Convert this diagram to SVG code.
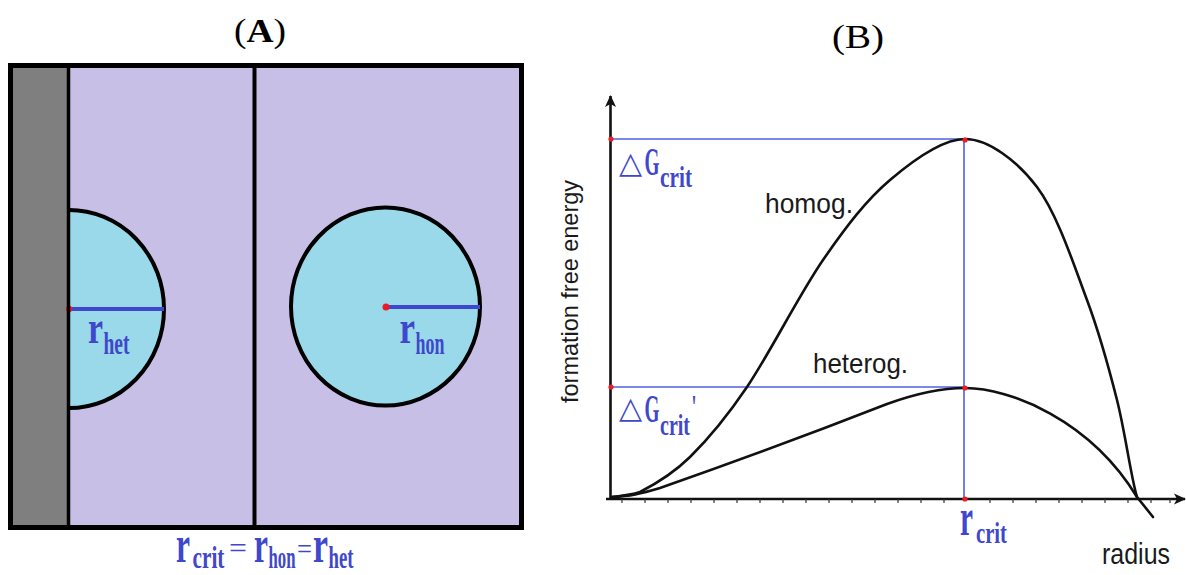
<svg xmlns="http://www.w3.org/2000/svg" width="1186" height="575" viewBox="0 0 1186 575">
<style>
.lab{fill:#3f48cc;font-family:"Liberation Serif",serif;font-weight:bold}
.eq{fill:#3f48cc;font-family:"Liberation Serif",serif}
.sym{fill:#3f48cc;font-family:"DejaVu Sans",sans-serif}
.ttl{fill:#000;font-family:"Liberation Serif",serif}
.cap{fill:#1a1a1a;font-family:"Liberation Sans",sans-serif}
.thin{stroke:#5060e0;stroke-width:1.6;fill:none}
.rad{stroke:#3f48cc;stroke-width:4;fill:none}
.curve{stroke:#111;stroke-width:2.6;fill:none;stroke-linecap:round;stroke-linejoin:round}
.axis{stroke:#111;stroke-width:2.6;fill:none}
.dot{fill:#ed1c24}
</style>
<defs>
<marker id="arr" viewBox="0 0 12 12" refX="11" refY="6" markerWidth="12" markerHeight="12" markerUnits="userSpaceOnUse" orient="auto">
<path d="M0,0.5 L12,6 L0,11.5 L3,6 Z" fill="#111"/>
</marker>
</defs>
<rect width="1186" height="575" fill="#fff"/>

<g id="panelA">
<text class="ttl" x="234" y="42" font-size="34" textLength="52" lengthAdjust="spacingAndGlyphs">(<tspan font-weight="bold">A</tspan>)</text>
<g id="medium">
<rect x="10.5" y="65.5" width="511" height="462" fill="#c8bfe6"/>
<rect x="13" y="68" width="55" height="457" fill="#7f7f7f"/>
</g>
<g id="het-nucleus">
<path d="M69,210 A95 99 0 0 1 69,408 Z" fill="#99d9ea"/>
<path d="M69,210 A95 99 0 0 1 69,408" fill="none" stroke="#000" stroke-width="4"/>
<line class="rad" x1="68" y1="309" x2="164" y2="309"/>
<circle class="dot" cx="69" cy="309" r="3.2"/>
<text class="lab" font-size="46" transform="translate(88,343) scale(0.735,1)">r</text>
<text class="lab" font-size="32" transform="translate(103.5,353.5) scale(0.61,1)">het</text>
</g>
<g id="hom-nucleus">
<ellipse cx="385.5" cy="306.5" rx="94.5" ry="99" fill="#99d9ea" stroke="#000" stroke-width="4"/>
<line class="rad" x1="386" y1="307" x2="480" y2="307"/>
<circle class="dot" cx="386" cy="307" r="3.5"/>
<text class="lab" font-size="46" transform="translate(399.5,343) scale(0.759,1)">r</text>
<text class="lab" font-size="32" transform="translate(415.5,353.5) scale(0.562,1)">hon</text>
</g>
<g id="frame">
<line x1="68.5" y1="68" x2="68.5" y2="525" stroke="#000" stroke-width="3.5"/>
<line x1="254.5" y1="68" x2="254.5" y2="525" stroke="#000" stroke-width="4"/>
<rect x="10.5" y="65.5" width="511" height="462" fill="none" stroke="#000" stroke-width="5"/>
</g>
<g id="eq-label">
<text class="lab" font-size="52" transform="translate(176,562) scale(0.606,1)">r</text>
<text class="lab" font-size="31" transform="translate(192.5,568) scale(0.688,1)">crit</text>
<text class="eq" font-size="30" transform="translate(229,557.5) scale(1.06,1)">=</text>
<text class="lab" font-size="52" transform="translate(254,562) scale(0.606,1)">r</text>
<text class="lab" font-size="31" transform="translate(268.5,568) scale(0.54,1)">hon</text>
<text class="eq" font-size="30" transform="translate(297,559) scale(0.887,1)">=</text>
<text class="lab" font-size="52" transform="translate(313,562) scale(0.65,1)">r</text>
<text class="lab" font-size="31" transform="translate(328.5,568) scale(0.605,1)">het</text>
</g>
</g>

<g id="panelB">
<text class="ttl" x="832" y="48" font-size="34" textLength="52" lengthAdjust="spacingAndGlyphs">(B)</text>
<g id="connectors">
<line class="thin" x1="611" y1="139" x2="965" y2="139"/>
<line class="thin" x1="611" y1="387" x2="965" y2="387"/>
<line class="thin" x1="964" y1="139" x2="964" y2="499"/>
</g>
<g id="axes">
<line class="axis" x1="610.5" y1="499" x2="610.5" y2="96" marker-end="url(#arr)"/>
<line class="axis" x1="606" y1="499" x2="1185" y2="499" marker-end="url(#arr)"/>
<path stroke="#333" stroke-width="1.2" d="M622,499v4 M645,499v4 M668,499v4 M691,499v4 M714,499v4 M737,499v4 M760,499v4 M783,499v4 M806,499v4 M829,499v4 M852,499v4 M875,499v4 M898,499v4 M921,499v4 M944,499v4 M990,499v4 M1013,499v4 M1036,499v4 M1059,499v4 M1082,499v4 M1105,499v4 M1128,499v4 M1151,499v4 M1170,499v4"/>
</g>
<g id="homog-curve">
<path class="curve" d="M612,497 C616.7,496.2 627,496 640,492 C653,485.3 672.2,474.5 690,457 C707.8,439.5 724.8,419.8 747,387 C769.2,354.2 799.2,294.5 823,260 C846.8,225.5 866.3,200.2 890,180 C913.7,159.8 942,139 965,139 C988,139 1016.7,160.2 1037,187 C1057.3,213.8 1073.7,264.5 1087,300 C1100.3,335.5 1108.7,367.2 1117,400 C1125.3,432.8 1131,477.5 1137,497 L1153,517"/>
<text class="cap" x="765" y="213" font-size="28" textLength="88" lengthAdjust="spacingAndGlyphs">homog.</text>
</g>
<g id="heterog-curve">
<path class="curve" d="M612,497 C630,496 640,494 660,488 C700,474 800,438 887,404 C920,392 945,388 965,388 C1010,388 1090,420 1137,497"/>
<text class="cap" x="813" y="373" font-size="28" textLength="95" lengthAdjust="spacingAndGlyphs">heterog.</text>
</g>
<g id="dots">
<circle class="dot" cx="611" cy="139" r="2.6"/>
<circle class="dot" cx="965" cy="140" r="2.6"/>
<circle class="dot" cx="611" cy="387" r="2.6"/>
<circle class="dot" cx="965" cy="388" r="2.6"/>
<circle class="dot" cx="965" cy="499" r="2.6"/>
</g>
<g id="dGcrit">
<text class="sym" font-size="30" x="619" y="173">△</text>
<text class="lab" font-size="41" transform="translate(644.5,175) scale(0.47,1)">G</text>
<text class="lab" font-size="30" transform="translate(660,187) scale(0.712,1)">crit</text>
</g>
<g id="dGcrit2">
<text class="sym" font-size="30" x="619" y="418">△</text>
<text class="lab" font-size="41" transform="translate(644.5,422) scale(0.47,1)">G</text>
<text class="lab" font-size="30" transform="translate(660,435) scale(0.667,1)">crit</text>
<text class="lab" font-size="34" transform="translate(691.5,418) scale(0.53,1)">'</text>
</g>
<g id="rcrit">
<text class="lab" font-size="52" transform="translate(960,535) scale(0.563,1)">r</text>
<text class="lab" font-size="30" transform="translate(976,543) scale(0.689,1)">crit</text>
</g>
<text class="cap" x="1102" y="564" font-size="30" textLength="68" lengthAdjust="spacingAndGlyphs">radius</text>
<text class="cap" transform="translate(578,403) rotate(-90)" x="0" y="0" font-size="24" textLength="223" lengthAdjust="spacingAndGlyphs">formation free energy</text>
</g>
</svg>
